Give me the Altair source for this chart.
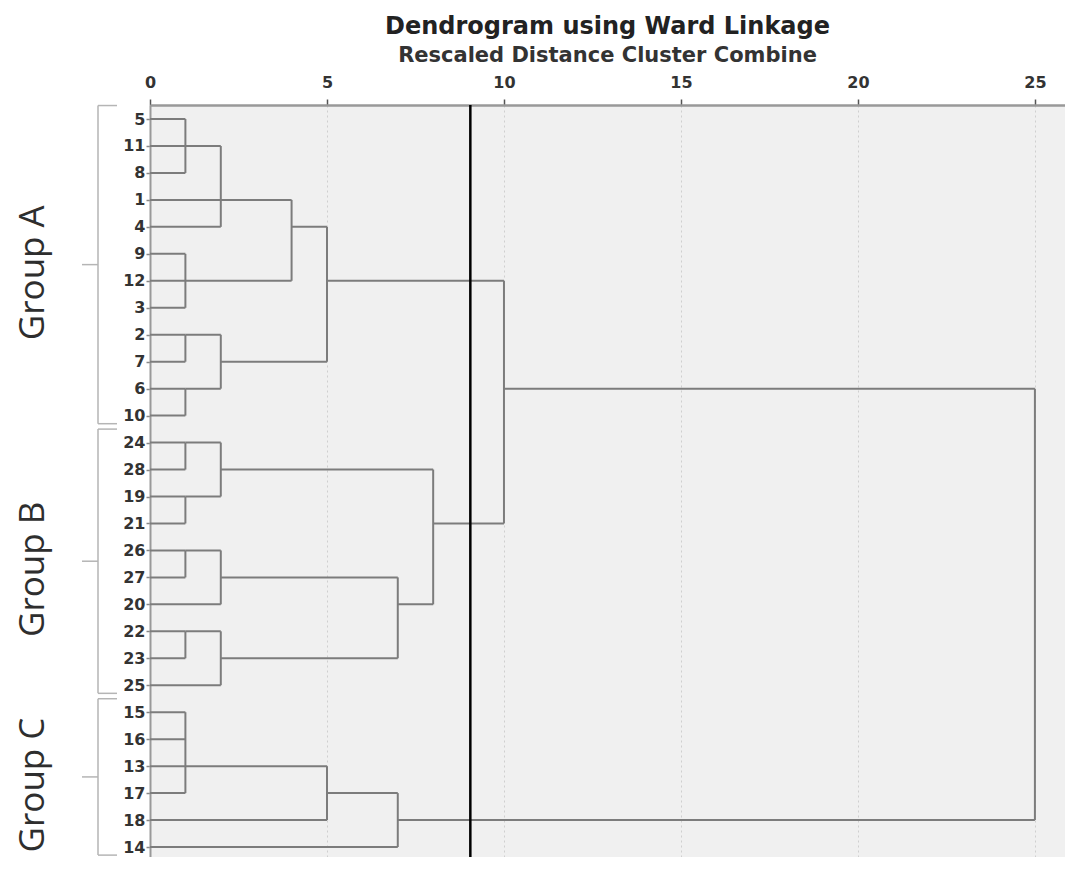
import altair as alt
import pandas as pd

# ---------------- data ----------------
LEAVES = ["5", "11", "8", "1", "4", "9", "12", "3", "2", "7", "6", "10",
          "24", "28", "19", "21", "26", "27", "20", "22", "23", "25",
          "15", "16", "13", "17", "18", "14"]

# each join: rescaled distance, first and last case spanned by the join line,
# case row that carries the joined cluster's connector onwards ("" = root)
MERGE_DIST = [1, 1, 1, 1, 2, 2, 4, 5,
              1, 1, 2, 1, 2, 1, 2, 7, 8,
              10,
              1, 5, 7,
              25]
MERGE_FIRST = ["5", "9", "2", "6", "11", "2", "1", "4",
               "24", "19", "24", "26", "26", "22", "22", "27", "28",
               "12",
               "15", "13", "17",
               "6"]
MERGE_LAST = ["8", "3", "7", "10", "4", "6", "12", "7",
              "28", "21", "19", "27", "20", "23", "25", "23", "20",
              "21",
              "17", "18", "14",
              "18"]
MERGE_ROW = ["11", "12", "2", "6", "1", "7", "4", "12",
             "24", "19", "28", "26", "27", "22", "23", "20", "21",
             "6",
             "13", "17", "18",
             ""]

GROUPS = ["Group A", "Group B", "Group C"]
GROUP_FIRST = ["5", "24", "15"]
GROUP_LAST = ["10", "25", "14"]

X_TICKS = [0, 5, 10, 15, 20, 25]
CUT = 9.05

# ---------------- build segments ----------------
pos = {leaf: i for i, leaf in enumerate(LEAVES)}
merges = [
    dict(d=d, a=pos[f], b=pos[l], row=(pos[r] if r else None))
    for d, f, l, r in zip(MERGE_DIST, MERGE_FIRST, MERGE_LAST, MERGE_ROW)
]

segs = []
# vertical join lines
for m in merges:
    segs.append(dict(x=m["d"], x2=m["d"], y=m["a"], y2=m["b"]))
# case lines (from 0 to the first join that spans the case)
for i in range(len(LEAVES)):
    join = min(m["d"] for m in merges if m["a"] <= i <= m["b"])
    segs.append(dict(x=0, x2=join, y=i, y2=i))
# connectors from each join to the next join that spans its row
for m in merges:
    if m["row"] is None:
        continue
    r = m["row"]
    parent = min(p["d"] for p in merges if p["d"] > m["d"] and p["a"] <= r <= p["b"])
    segs.append(dict(x=m["d"], x2=parent, y=r, y2=r))
seg_df = pd.DataFrame(segs)

grp_rows = []
for g, f, l in zip(GROUPS, GROUP_FIRST, GROUP_LAST):
    top = pos[f] - 0.5
    bot = pos[l] + 0.3
    mid = (top + bot) / 2
    grp_rows.append(dict(group=g, y=top, bot=bot, mid=mid, ty=mid + 0.3))
grp_df = pd.DataFrame(grp_rows)

# ---------------- scales / axes ----------------
X_SCALE = alt.Scale(domain=[0, 25.85], nice=False, zero=False)
Y_SCALE = alt.Scale(domain=[-0.52, 27.37], reverse=True, nice=False, zero=False)

label_expr = "[" + ",".join("'" + s + "'" for s in LEAVES) + "][datum.value]"

x_axis = alt.Axis(orient="top", values=X_TICKS, format="d", title=None,
                  labelFont="DejaVu Sans", labelFontWeight="bold", labelFontSize=16,
                  labelColor="#333333", labelFlush=False, labelPadding=9,
                  tickColor="#555555", tickSize=6, tickWidth=1.5,
                  domainColor="#999999", domainWidth=2.5,
                  grid=True, gridColor="#cfcfcf", gridDash=[2, 3], gridWidth=1)
y_axis = alt.Axis(values=list(range(len(LEAVES))), labelExpr=label_expr, title=None,
                  labelFont="DejaVu Sans", labelFontWeight="bold", labelFontSize=16,
                  labelColor="#333333", labelPadding=1,
                  tickColor="#888888", tickSize=4, tickWidth=1.5,
                  domainColor="#999999", domainWidth=2, grid=False)

LINE_COLOR = "#7c7c7c"
BRACE_COLOR = "#b5b5b5"

tree = alt.Chart(seg_df).mark_rule(color=LINE_COLOR, strokeWidth=2).encode(
    x=alt.X("x:Q", scale=X_SCALE, axis=x_axis),
    x2="x2:Q",
    y=alt.Y("y:Q", scale=Y_SCALE, axis=y_axis),
    y2="y2:Q",
)

cut = alt.Chart(pd.DataFrame({"x": [CUT]})).mark_rule(color="black", strokeWidth=2.5).encode(
    x=alt.X("x:Q", scale=X_SCALE, axis=x_axis),
)

brace_base = alt.Chart(grp_df)
brace_v = brace_base.mark_rule(color=BRACE_COLOR, strokeWidth=1.5).encode(
    x=alt.value(-52),
    y=alt.Y("y:Q", scale=Y_SCALE, axis=y_axis),
    y2="bot:Q",
)
brace_top = brace_base.mark_rule(color=BRACE_COLOR, strokeWidth=1.5).encode(
    x=alt.value(-52), x2=alt.value(-33),
    y=alt.Y("y:Q", scale=Y_SCALE, axis=y_axis),
)
brace_bot = brace_base.mark_rule(color=BRACE_COLOR, strokeWidth=1.5).encode(
    x=alt.value(-52), x2=alt.value(-33),
    y=alt.Y("bot:Q", scale=Y_SCALE, axis=y_axis),
)
brace_mid = brace_base.mark_rule(color=BRACE_COLOR, strokeWidth=1.5).encode(
    x=alt.value(-68), x2=alt.value(-52),
    y=alt.Y("mid:Q", scale=Y_SCALE, axis=y_axis),
)
group_text = brace_base.mark_text(angle=270, font="Open Sans", fontSize=35, color="#2e2e2e",
                                  align="center", baseline="alphabetic").encode(
    x=alt.value(-106),
    y=alt.Y("ty:Q", scale=Y_SCALE, axis=y_axis),
    text="group:N",
)

chart = alt.layer(tree, cut, brace_v, brace_top, brace_bot, brace_mid, group_text).properties(
    width=915,
    height=752,
    title=alt.Title(text="Dendrogram using Ward Linkage",
                    subtitle="Rescaled Distance Cluster Combine",
                    anchor="middle", font="DejaVu Sans", fontSize=24, fontWeight="bold",
                    color="#222222", subtitleFont="DejaVu Sans", subtitleFontSize=21,
                    subtitleFontWeight="bold", subtitleColor="#333333",
                    offset=8, subtitlePadding=6),
    autosize=alt.AutoSizeParams(type="none"),
    padding={"left": 142, "top": 97, "right": 0, "bottom": 0},
).configure(background="white").configure_view(fill="#f0f0f0", strokeWidth=0)

chart.save("out.html", embed_options={"renderer": "svg", "actions": False})
